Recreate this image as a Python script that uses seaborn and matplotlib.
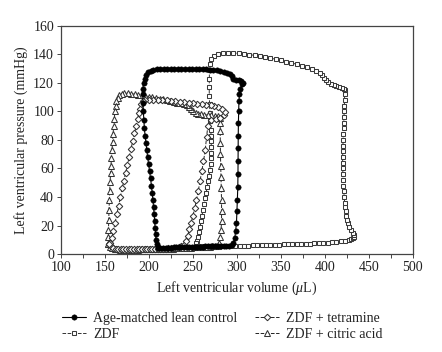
import matplotlib
matplotlib.use("Agg")
import matplotlib.pyplot as plt
import seaborn as sns
import pandas as pd

# pressure-volume loops (volume uL, pressure mmHg)
LEAN_V = [210, 213, 216, 219, 222, 225, 228, 231, 234, 237, 240, 243, 246, 249, 252, 255, 258, 261, 264, 267,
          270, 273, 276, 279, 282, 285, 288, 291, 294, 296,
          297.5, 298.5, 299.5, 300, 300.5, 301, 301.2, 301.3, 301.4, 301.5, 301.7, 302, 302.3, 302.8, 304, 306, 307,
          305, 302, 299, 296, 294, 292, 289, 285, 281, 277, 273, 269, 265, 261, 257, 253, 249, 245, 241, 237,
          233, 229, 225, 221, 217, 213, 209, 205, 202, 199, 197, 195, 194, 193,
          193, 193.2, 193.6, 194.2, 194.8, 195.6, 196.6, 197.5, 198.5, 199.6, 200.7, 201.8, 202.8, 203.7, 204.5,
          205.2, 205.9, 206.5, 207, 207.5, 208, 209, 210]
LEAN_P = [4.6, 4.3, 4.3, 4.4, 4.5, 4.6, 4.7, 4.8, 4.8, 4.9, 5.0, 5.0, 5.1, 5.1, 5.2, 5.2, 5.3, 5.3, 5.4, 5.4,
          5.5, 5.5, 5.6, 5.6, 5.7, 5.7, 5.8, 6.0, 6.4, 7.5,
          11, 16, 22, 30, 38, 47, 56, 65, 74, 83, 92, 100, 107, 112, 116, 119, 120,
          121, 121.8, 122.3, 123, 124.5, 126, 127.2, 127.8, 128.3, 128.7, 129, 129.2, 129.4, 129.6, 129.7, 129.8,
          129.9, 130, 130, 130, 130, 130, 130, 129.9, 129.8, 129.7, 129.5, 129.2, 128.5, 127.3, 125.5, 123, 120, 116,
          112, 106, 100, 94, 88, 83, 78, 73, 68, 63, 58, 53, 48, 43, 38, 33, 28, 23, 18, 14, 10, 7, 5]

ZDF_V = [253, 258, 263, 268, 273, 278, 283, 288, 293, 298, 303, 308, 313, 318, 323, 328, 333, 338, 343, 348,
         353, 358, 363, 368, 373, 378, 383, 388, 393, 398, 403, 408, 413, 418, 423, 427, 430, 432, 433.5,
         433, 432, 430, 428, 426.5, 425, 424, 423.5, 423, 422.5, 422, 421.5, 421, 420.7, 420.5, 420.3, 420.2,
         420.2, 420.3, 420.5, 420.7, 421, 421.2, 421.5, 421.7, 422, 422.2, 422.4, 422.5, 422.6,
         422, 419, 416, 413, 410, 407, 404, 401, 399, 397, 394, 390, 385, 380, 374, 368, 362, 356, 350, 344,
         338, 332, 326, 320, 314, 308, 302, 296, 290, 284, 278, 274, 271, 269.5, 268.8,
         268.6, 268.5, 268.6, 268.9, 269.3, 269.8, 270.3, 270.6, 270.8, 270.9, 270.8, 270.5, 270, 269.2, 268.3,
         267.3, 266.2, 265, 263.8, 262.6, 261.4, 260.3, 259.2, 258.1, 257, 255.8, 254.6, 253.5, 253]
ZDF_P = [5.4, 5.4, 5.4, 5.5, 5.5, 5.6, 5.6, 5.7, 5.7, 5.8, 5.8, 5.9, 6.0, 6.1, 6.2, 6.3, 6.4, 6.5, 6.6, 6.7,
         6.8, 6.9, 7.0, 7.1, 7.2, 7.3, 7.4, 7.5, 7.6, 7.8, 8.0, 8.3, 8.6, 9.0, 9.5, 10, 10.5, 11, 12,
         13.5, 15, 17, 19, 21.5, 24, 27, 30, 33, 36, 40, 44, 48, 52, 56, 60, 64,
         68, 72, 76, 80, 84, 88, 92, 96, 100, 104, 108, 112, 115,
         115.5, 116.2, 116.8, 117.5, 118.3, 119.2, 120.3, 121.8, 123.5, 125.3, 127, 128.3, 129.6, 130.8, 132,
         133, 133.9, 134.8, 135.7, 136.5, 137.3, 138, 138.6, 139.2, 139.8, 140.2, 140.6, 140.9, 141, 140.8,
         140.3, 139, 136.5, 133, 129,
         123, 117, 111, 105, 99, 93, 87, 83, 79, 75, 71, 67, 63, 59, 55,
         51, 47, 43, 39, 35, 31, 27, 23, 19, 15.5, 12, 9.5, 7.5, 6]

TETRA_V = [155, 157, 159, 162, 165, 168, 171, 174, 177, 180, 183, 186, 189, 192, 195, 198, 201, 204, 207, 210,
           213, 216, 219, 222, 225, 228, 231, 234, 237, 240,
           242, 244, 246, 248, 250, 252, 254, 256, 258, 260, 262, 264, 265.5, 267,
           271, 276, 281, 285, 286, 283,
           278, 274, 270, 265, 260, 255, 250, 245, 240, 235, 230, 225, 220, 215, 210, 205, 200, 196,
           193.5, 191.5, 190, 188.5, 187, 185.5, 183.5, 181.5, 179.5, 177.5, 175.5, 173.5, 171.5, 169.5, 167.5,
           165.5, 163.5, 161.5, 159.5, 157.5, 156, 155]
TETRA_P = [7, 5.5, 4.5, 3.8, 3.5, 3.4, 3.3, 3.3, 3.3, 3.3, 3.3, 3.4, 3.4, 3.4, 3.5, 3.5, 3.6, 3.6, 3.7, 3.7,
           3.8, 3.8, 3.9, 4.0, 4.1, 4.3, 4.6, 5.0, 5.6, 6.5,
           9, 13, 17.5, 22, 27, 32, 38, 44, 51, 58, 65, 73, 82, 90,
           94, 94.5, 95.5, 97.5, 99.5, 102,
           103.3, 103.8, 104.4, 104.7, 105, 105.3, 105.7, 106.1, 106.5, 106.8, 107.1, 107.4, 107.7, 107.9, 108.1,
           108.3, 108.3, 108.2,
           107, 105, 102, 99, 95, 90, 84.5, 79, 73.5, 68, 62.5, 57, 51.5, 46, 40,
           34, 28, 22, 16, 11, 8, 7]

CITRIC_V = [154, 156, 158, 161, 164, 167, 170, 173, 176, 179, 182, 185, 188, 191, 194, 197, 200, 203, 206, 209,
            212, 215, 218, 221, 224, 227, 230, 233, 236, 239, 242, 245, 248, 251, 254, 257, 260, 263, 266, 269,
            272, 275, 278,
            280, 281, 282, 282.5, 282.6, 282.5, 282.2, 281.9, 281.6, 281.3, 281.1, 281, 281.2,
            280.5, 278, 275, 271, 267, 263, 259, 256, 253, 250.5, 248, 245.5, 243, 240, 236, 232, 228, 224, 220,
            216, 212, 208, 204, 200, 196, 192, 188, 184, 180, 176, 172, 169, 166.5,
            164.5, 163, 162, 161.3, 160.6, 159.9, 159.2, 158.6, 158, 157.4, 156.8, 156.3, 155.8, 155.4, 155,
            154.6, 154.3, 154, 153.8, 154]
CITRIC_P = [7, 5.2, 4.3, 3.7, 3.4, 3.2, 3.1, 3.1, 3.1, 3.1, 3.2, 3.2, 3.2, 3.3, 3.3, 3.4, 3.4, 3.5, 3.5, 3.6,
            3.6, 3.7, 3.7, 3.8, 3.9, 3.9, 4.0, 4.1, 4.2, 4.3, 4.4, 4.5, 4.6, 4.7, 4.8, 4.9, 5.0, 5.1, 5.2, 5.3,
            5.4, 5.6, 6.0,
            8, 12, 17, 23, 30, 38, 46, 54, 62, 70, 78, 86, 92,
            95.5, 96.6, 97, 97.2, 97.4, 97.6, 97.9, 98.3, 99, 100, 101.5, 103, 104.2, 105, 105.6, 106.2, 106.8,
            107.4, 108, 108.5, 109, 109.5, 110, 110.4, 110.8, 111.2, 111.6, 112, 112.3, 112.6, 112.7, 112.4, 111.5,
            109.5, 107, 104, 100, 95, 89.5, 84, 78.5, 73, 67.5, 62, 56.5, 50.5, 44.5, 38,
            31, 24, 17, 12, 7]

LABELS = ["Age-matched lean control", "ZDF", "ZDF + tetramine", "ZDF + citric acid"]

sns.set_style("ticks")
plt.rcParams["font.family"] = ["Liberation Serif", "DejaVu Serif"]
plt.rcParams["mathtext.fontset"] = "custom"
plt.rcParams["mathtext.rm"] = "Liberation Serif"
plt.rcParams["mathtext.it"] = "Liberation Serif:italic"

fig = plt.figure(figsize=(4.42, 3.52), dpi=100)
ax = fig.add_axes([0.138, 0.278, 0.796, 0.649])

open_kw = dict(markerfacecolor="white", markeredgewidth=0.75, linewidth=0.7, linestyle="--",
               dashes=(3.5, 2.5), sort=False, estimator=None, ax=ax)

sns.lineplot(x=ZDF_V, y=ZDF_P, marker="s", markersize=3.5, color="#333333",
             markeredgecolor="#3a3a3a", label=LABELS[1], **open_kw)
sns.lineplot(x=CITRIC_V, y=CITRIC_P, marker="^", markersize=4.2, color="#222222",
             markeredgecolor="#333333", label=LABELS[3], **open_kw)
sns.lineplot(x=TETRA_V, y=TETRA_P, marker="D", markersize=3.3, color="#222222",
             markeredgecolor="#333333", label=LABELS[2], **open_kw)
sns.lineplot(x=LEAN_V, y=LEAN_P, marker="o", markersize=3.9, color="#000000",
             markeredgecolor="#000000", markeredgewidth=0.3, linewidth=0.8,
             sort=False, estimator=None, ax=ax, label=LABELS[0])

ax.set_xlim(100, 500)
ax.set_ylim(0, 160)
ax.set_xticks(range(100, 501, 50))
ax.set_xticks(range(125, 500, 50), minor=True)
ax.set_yticks(range(0, 161, 20))
for s in ax.spines.values():
    s.set_color("#444444")
    s.set_linewidth(0.9)
ax.tick_params(which="both", direction="out", length=3, width=0.7, colors="#444444",
               labelcolor="#222222", labelsize=10, pad=2)
ax.set_xlabel("Left ventricular volume ($\\mu$L)", fontsize=10, color="#222222", labelpad=4)
ax.set_ylabel("Left ventricular pressure (mmHg)", fontsize=10, color="#222222", labelpad=4)

handles, labels = ax.get_legend_handles_labels()
ax.legend_.remove()
order = [labels.index(l) for l in LABELS]
fig.legend([handles[i] for i in order], [labels[i] for i in order], ncol=2, frameon=False,
           loc="center", bbox_to_anchor=(0.503, 0.072), fontsize=10, handlelength=1.7,
           handletextpad=0.5, columnspacing=1.3, labelspacing=0.2, labelcolor="#222222")

fig.savefig("out.png", dpi=100)
